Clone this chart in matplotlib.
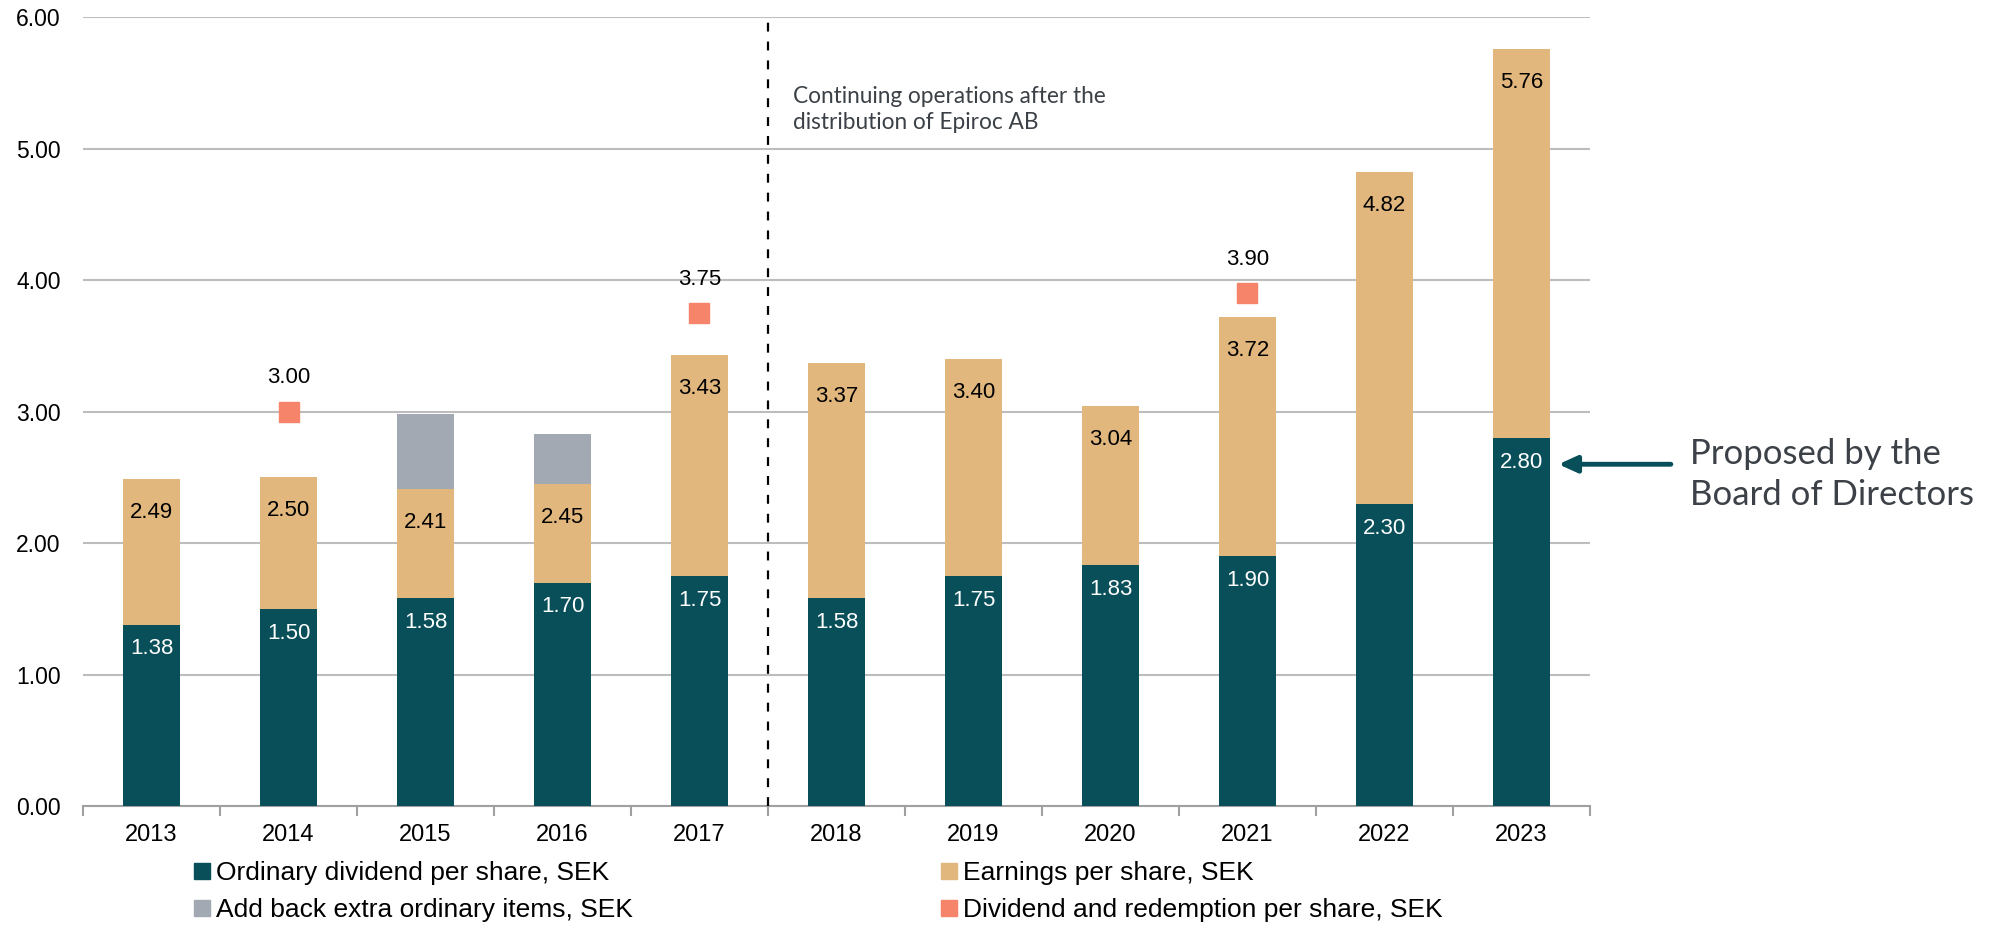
import numpy as np
import matplotlib.pyplot as plt
from matplotlib.patches import Patch

# -----------------------------
# Data
# -----------------------------
years = ["2013", "2014", "2015", "2016", "2017", "2018",
         "2019", "2020", "2021", "2022", "2023"]
eps = [2.49, 2.50, 2.41, 2.45, 3.43, 3.37, 3.40, 3.04, 3.72, 4.82, 5.76]
dividend = [1.38, 1.50, 1.58, 1.70, 1.75, 1.58, 1.75, 1.83, 1.90, 2.30, 2.80]
addback = [0, 0, 0.57, 0.38, 0, 0, 0, 0, 0, 0, 0]
redemption_years = ["2014", "2017", "2021"]
redemption = [3.00, 3.75, 3.90]

C_DIV = "#084F59"
C_EPS = "#E1B77D"
C_ADD = "#A3A9B2"
C_RED = "#F5846A"
C_TXT = "#3B4147"

plt.rcParams["font.family"] = ["Liberation Sans", "DejaVu Sans"]

fig = plt.figure(figsize=(20, 9.27), dpi=100)
ax = fig.add_axes([0.0415, 0.1305, 0.7535, 0.8508])

x = np.arange(len(years))
w = 0.41

# EPS bar behind, extra items on top of it, dividend in front
ax.bar(x, eps, width=w, color=C_EPS, zorder=2)
ax.bar(x, addback, width=w, bottom=eps, color=C_ADD, zorder=2)
ax.bar(x, dividend, width=w, color=C_DIV, zorder=3)

for xi, e, d in zip(x, eps, dividend):
    ax.annotate(f"{e:.2f}", (xi, e), xytext=(0, -24), textcoords="offset points",
                ha="center", va="center", fontsize=16, color="black", zorder=5)
    ax.annotate(f"{d:.2f}", (xi, d), xytext=(0, -17.5), textcoords="offset points",
                ha="center", va="center", fontsize=16, color="white", zorder=5)

rx = [years.index(y) for y in redemption_years]
ax.plot(rx, redemption, ls="none", marker="s", ms=15, color=C_RED, zorder=4)
for xi, v in zip(rx, redemption):
    ax.annotate(f"{v:.2f}", (xi, v), xytext=(0, 24.5), textcoords="offset points",
                ha="center", va="center", fontsize=16, color="black")

# divider between 2017 and 2018
ax.plot([4.5, 4.5], [0, 6], color="black", lw=1.6, ls=(0, (4, 4.5)), zorder=4)
ax.text(4.68, 5.30, "Continuing operations after the\ndistribution of Epiroc AB",
        fontsize=16.3, family=["Lato", "DejaVu Sans"], color=C_TXT,
        ha="left", va="center", linespacing=1.3)

# axes styling
ax.set_xlim(-0.5, len(years) - 0.5)
ax.set_ylim(0, 6)
ax.set_yticks(np.arange(0, 6.01, 1))
ax.set_yticklabels([f"{v:.2f}" for v in np.arange(0, 6.01, 1)])
ax.set_xticks(x)
ax.set_xticklabels(years)
ax.set_xticks(np.arange(-0.5, len(years), 1), minor=True)
ax.tick_params(axis="y", length=0, pad=16, labelsize=16.5)
ax.tick_params(axis="x", which="major", length=0, pad=13, labelsize=17)
ax.tick_params(axis="x", which="minor", length=7, width=1.5, color="#A0A0A0")
ax.grid(axis="y", color="#BDBDBD", lw=1.5, zorder=0)
ax.set_axisbelow(True)
for s in ["top", "right", "left"]:
    ax.spines[s].set_visible(False)
ax.spines["bottom"].set_color("#A0A0A0")
ax.spines["bottom"].set_linewidth(1.5)

# arrow + note for 2023
ax.annotate("", xy=(10.27, 2.60), xytext=(11.09, 2.60), xycoords="data",
            textcoords="data", annotation_clip=False,
            arrowprops=dict(arrowstyle="-|>,head_length=1.1,head_width=0.5",
                            color=C_DIV, lw=3.5, shrinkA=0, shrinkB=0))
ax.text(11.23, 2.52, "Proposed by the\nBoard of Directors", fontsize=25,
        family=["Lato", "DejaVu Sans"], color=C_TXT, ha="left", va="center",
        linespacing=1.33, clip_on=False)

# legend, two columns placed separately
common = dict(frameon=False, prop=dict(size=19), handlelength=0.6,
              handleheight=0.6, handletextpad=0.25, labelspacing=0.5,
              borderpad=0, borderaxespad=0, loc="upper left")
fig.legend([Patch(color=C_DIV), Patch(color=C_ADD)],
           ["Ordinary dividend per share, SEK",
            "Add back extra ordinary items, SEK"],
           bbox_to_anchor=(0.097, 0.071), **common)
fig.legend([Patch(color=C_EPS), Patch(color=C_RED)],
           ["Earnings per share, SEK",
            "Dividend and redemption per share, SEK"],
           bbox_to_anchor=(0.4705, 0.071), **common)

fig.savefig("out.png", dpi=100)
